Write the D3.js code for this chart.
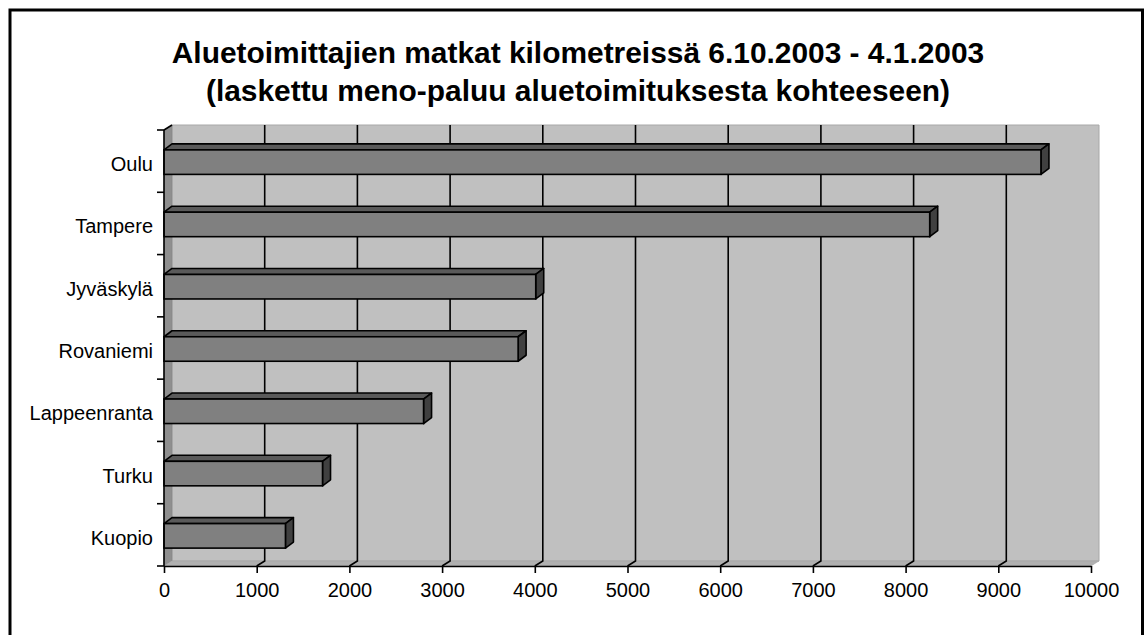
<!DOCTYPE html>
<html><head><meta charset="utf-8">
<script src="https://cdn.jsdelivr.net/npm/d3@7"></script>
<style>html,body{margin:0;padding:0;background:#fff;}svg{display:block;}</style>
</head><body>
<script>
const categories = ["Oulu","Tampere","Jyväskylä","Rovaniemi","Lappeenranta","Turku","Kuopio"];
const values = [9460, 8260, 4010, 3820, 2800, 1710, 1310];
const xTicks = [0,1000,2000,3000,4000,5000,6000,7000,8000,9000,10000];
const titleLines = ["Aluetoimittajien matkat kilometreissä 6.10.2003 - 4.1.2003",
                    "(laskettu meno-paluu aluetoimituksesta kohteeseen)"];

const W = 1146, H = 635;
const svg = d3.select("body").append("svg").attr("width", W).attr("height", H);
const font = "'Liberation Sans', Arial, sans-serif";

// frame
svg.append("rect").attr("x",10).attr("y",10).attr("width",1132.5).attr("height",640)
  .attr("fill","#fff").attr("stroke","#000").attr("stroke-width",3);

// title
svg.selectAll("text.title").data(titleLines).enter().append("text")
  .attr("class","title").attr("x",578).attr("y",(d,i)=>63+i*38)
  .attr("text-anchor","middle").attr("font-family",font).attr("font-weight","bold")
  .attr("font-size",29.9).attr("fill","#000").text(d=>d);

const x0 = 164, x1 = 1091, yTop = 130, yBot = 566;
const dx = 8, dy = -5;       // wall depth
const bdx = 8, bdy = -6;     // bar depth
const x = d3.scaleLinear().domain([0,10000]).range([x0,x1]);
const y = d3.scaleBand().domain(categories).range([yTop,yBot]).padding(0);

const poly = pts => pts.map(p=>p.join(",")).join(" ");

// back wall
svg.append("polygon").attr("points", poly([[x0+dx,yTop+dy],[x1+dx,yTop+dy],[x1+dx,yBot+dy],[x0+dx,yBot+dy]]))
  .attr("fill","#c0c0c0").attr("stroke","#a8a8a8").attr("stroke-width",1);
// left side wall
svg.append("polygon").attr("points", poly([[x0,yTop],[x0+dx,yTop+dy],[x0+dx,yBot+dy],[x0,yBot]]))
  .attr("fill","#8f8f8f").attr("stroke","#808080").attr("stroke-width",0.5);
// floor
svg.append("polygon").attr("points", poly([[x0,yBot],[x0+dx,yBot+dy],[x1+dx,yBot+dy],[x1,yBot]]))
  .attr("fill","#b0b0b0").attr("stroke","#a0a0a0").attr("stroke-width",0.5);

// gridlines
const grid = xTicks.filter(t=>t>0 && t<10000);
svg.selectAll("path.grid").data(grid).enter().append("path").attr("class","grid")
  .attr("d", t => `M${x(t)+dx},${yTop+dy}L${x(t)+dx},${yBot+dy}L${x(t)},${yBot}`)
  .attr("fill","none").attr("stroke","#000").attr("stroke-width",1.6);

// bars
const bh = 24.5;
const bars = svg.selectAll("g.bar").data(categories.map((c,i)=>({c, v: values[i]}))).enter()
  .append("g").attr("class","bar");
const fy = d => y(d.c) + y.bandwidth()/2 + 1 - bh/2;
bars.append("polygon").attr("points", d => {
  const t = fy(d), xe = x(d.v);
  return poly([[x0,t],[x0+bdx,t+bdy],[xe+bdx,t+bdy],[xe,t]]);
}).attr("fill","#5a5a5a").attr("stroke","#000").attr("stroke-width",1.6).attr("stroke-linejoin","round");
bars.append("polygon").attr("points", d => {
  const t = fy(d), xe = x(d.v);
  return poly([[xe,t],[xe+bdx,t+bdy],[xe+bdx,t+bdy+bh],[xe,t+bh]]);
}).attr("fill","#404040").attr("stroke","#000").attr("stroke-width",1.6).attr("stroke-linejoin","round");
bars.append("rect").attr("x",x0).attr("y",fy).attr("width",d=>x(d.v)-x0).attr("height",bh)
  .attr("fill","#808080").attr("stroke","#000").attr("stroke-width",1.6);

// axes
const xAxis = d3.axisBottom(x).tickValues(xTicks).tickFormat(d3.format("d"))
  .tickSize(7).tickSizeOuter(0).tickPadding(10);
const gx = svg.append("g").attr("transform",`translate(0,${yBot})`).call(xAxis);
gx.select(".domain").attr("stroke","#000").attr("stroke-width",1.6);
gx.selectAll(".tick line").attr("stroke","#000").attr("stroke-width",1.6);
gx.selectAll(".tick text").attr("font-family",font).attr("font-size",20).attr("fill","#000");

const yAxis = d3.axisLeft(y).tickSize(0).tickPadding(11);
const gy = svg.append("g").attr("transform",`translate(${x0},0)`).call(yAxis);
gy.select(".domain").attr("stroke","#000").attr("stroke-width",1.6).attr("d",`M0,${yTop}V${yBot}`);
gy.selectAll(".tick text").attr("font-family",font).attr("font-size",20).attr("fill","#000").attr("dy","0.5em");
const bounds = categories.map(c=>y(c)).concat([yBot]);
svg.selectAll("line.ytick").data(bounds).enter().append("line").attr("class","ytick")
  .attr("x1",x0-7).attr("x2",x0).attr("y1",d=>d).attr("y2",d=>d)
  .attr("stroke","#000").attr("stroke-width",1.6);
svg.append("line").attr("x1",x0).attr("y1",yTop).attr("x2",x0+dx).attr("y2",yTop+dy)
  .attr("stroke","#000").attr("stroke-width",1.6);
</script>
</body></html>
